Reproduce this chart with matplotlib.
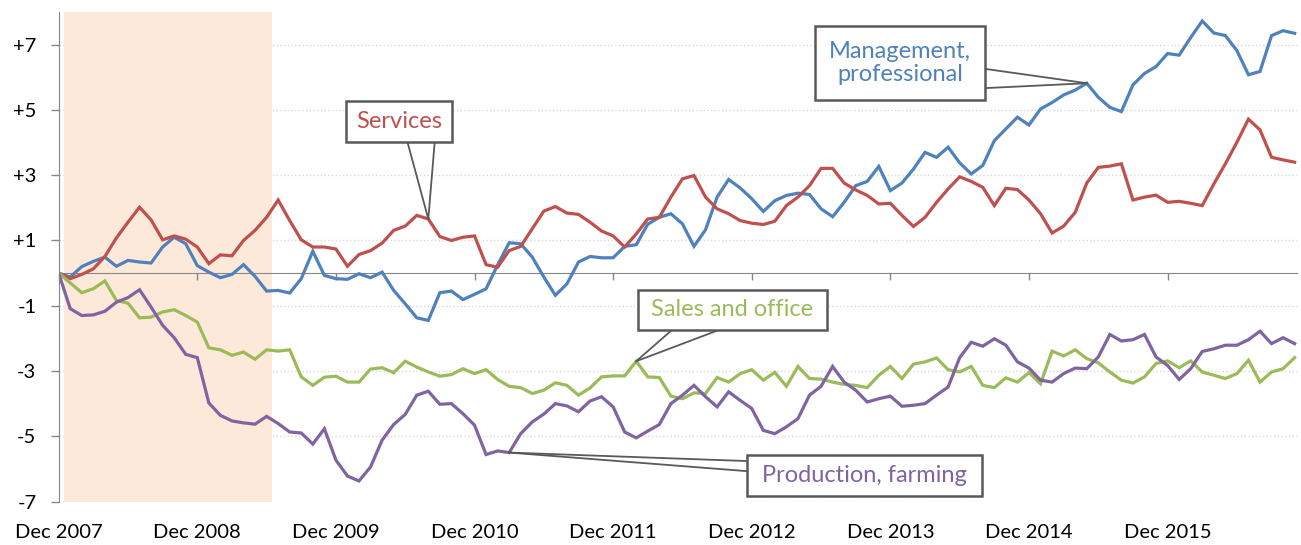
import matplotlib.pyplot as plt
from matplotlib.patches import Rectangle

plt.rcParams['font.family'] = ['Lato', 'DejaVu Sans']

# monthly change since Dec 2007 (millions), Dec 2007 .. Nov 2016
months = list(range(108))
tick_pos = list(range(0, 108, 12))
tick_labels = ['Dec 2007', 'Dec 2008', 'Dec 2009', 'Dec 2010', 'Dec 2011',
               'Dec 2012', 'Dec 2013', 'Dec 2014', 'Dec 2015']
y_ticks = [-7, -5, -3, -1, 1, 3, 5, 7]

management = [0, -0.12, 0.20, 0.36, 0.49, 0.21, 0.39, 0.34, 0.31, 0.80, 1.10, 0.90,
              0.23, 0.03, -0.14, -0.04, 0.26, -0.10, -0.55, -0.53, -0.61, -0.17, 0.67, -0.07,
              -0.17, -0.19, -0.02, -0.14, 0.03, -0.53, -0.94, -1.37, -1.45, -0.60, -0.55, -0.81,
              -0.65, -0.48, 0.25, 0.93, 0.90, 0.49, -0.12, -0.68, -0.33, 0.34, 0.51, 0.47,
              0.47, 0.82, 0.87, 1.50, 1.71, 1.82, 1.51, 0.82, 1.33, 2.33, 2.87, 2.61,
              2.28, 1.89, 2.22, 2.38, 2.45, 2.41, 1.97, 1.73, 2.17, 2.68, 2.81, 3.27,
              2.53, 2.76, 3.19, 3.70, 3.55, 3.86, 3.38, 3.04, 3.30, 4.06, 4.42, 4.78,
              4.54, 5.03, 5.23, 5.46, 5.61, 5.82, 5.39, 5.08, 4.95, 5.77, 6.12, 6.33,
              6.73, 6.68, 7.22, 7.73, 7.36, 7.28, 6.82, 6.08, 6.18, 7.28, 7.43, 7.35]

services = [0, -0.17, -0.04, 0.13, 0.51, 1.08, 1.56, 2.02, 1.63, 1.02, 1.14, 1.04,
            0.80, 0.29, 0.56, 0.53, 1.00, 1.31, 1.71, 2.24, 1.61, 1.02, 0.80, 0.80,
            0.74, 0.21, 0.57, 0.69, 0.92, 1.31, 1.44, 1.77, 1.66, 1.12, 1.00, 1.10,
            1.14, 0.26, 0.18, 0.69, 0.82, 1.36, 1.90, 2.04, 1.84, 1.80, 1.56, 1.29,
            1.14, 0.80, 1.20, 1.66, 1.71, 2.33, 2.89, 2.99, 2.33, 1.97, 1.82, 1.61,
            1.53, 1.49, 1.59, 2.07, 2.33, 2.68, 3.21, 3.21, 2.76, 2.55, 2.38, 2.12,
            2.14, 1.77, 1.43, 1.71, 2.17, 2.58, 2.95, 2.81, 2.63, 2.07, 2.60, 2.56,
            2.24, 1.82, 1.23, 1.44, 1.86, 2.76, 3.24, 3.28, 3.35, 2.24, 2.33, 2.39,
            2.17, 2.20, 2.14, 2.07, 2.73, 3.35, 4.01, 4.72, 4.39, 3.55, 3.47, 3.40]

sales = [0, -0.30, -0.60, -0.48, -0.24, -0.84, -0.92, -1.37, -1.35, -1.19, -1.12, -1.30,
         -1.50, -2.29, -2.35, -2.52, -2.42, -2.64, -2.35, -2.39, -2.35, -3.18, -3.44, -3.19,
         -3.16, -3.34, -3.34, -2.94, -2.90, -3.05, -2.70, -2.88, -3.03, -3.16, -3.11, -2.93,
         -3.08, -2.96, -3.26, -3.47, -3.51, -3.69, -3.59, -3.36, -3.44, -3.74, -3.52, -3.18,
         -3.15, -3.15, -2.70, -3.18, -3.20, -3.77, -3.85, -3.67, -3.69, -3.20, -3.34, -3.08,
         -2.96, -3.28, -3.04, -3.47, -2.86, -3.23, -3.25, -3.34, -3.41, -3.44, -3.51, -3.13,
         -2.86, -3.23, -2.79, -2.72, -2.60, -2.96, -3.03, -2.86, -3.44, -3.51, -3.21, -3.34,
         -3.05, -3.39, -2.39, -2.54, -2.35, -2.62, -2.75, -3.03, -3.28, -3.37, -3.18, -2.77,
         -2.69, -2.90, -2.69, -3.03, -3.13, -3.23, -3.08, -2.67, -3.34, -3.03, -2.93, -2.59]

production = [0, -1.09, -1.30, -1.28, -1.17, -0.89, -0.75, -0.51, -1.04, -1.60, -1.98, -2.49,
              -2.59, -3.98, -4.36, -4.53, -4.59, -4.63, -4.39, -4.61, -4.87, -4.90, -5.24, -4.77,
              -5.73, -6.22, -6.37, -5.94, -5.12, -4.64, -4.33, -3.74, -3.62, -4.02, -4.00, -4.31,
              -4.66, -5.56, -5.45, -5.50, -4.92, -4.56, -4.32, -4.00, -4.07, -4.25, -3.92, -3.79,
              -4.10, -4.87, -5.05, -4.84, -4.64, -4.00, -3.74, -3.44, -3.79, -4.10, -3.64, -3.90,
              -4.15, -4.82, -4.92, -4.71, -4.46, -3.74, -3.47, -2.86, -3.34, -3.59, -3.95, -3.85,
              -3.77, -4.08, -4.05, -4.00, -3.74, -3.49, -2.59, -2.12, -2.24, -2.01, -2.21, -2.72,
              -2.91, -3.28, -3.34, -3.08, -2.91, -2.93, -2.57, -1.88, -2.08, -2.04, -1.88, -2.57,
              -2.83, -3.26, -2.93, -2.40, -2.32, -2.21, -2.21, -2.04, -1.78, -2.16, -1.98, -2.16]

BLUE = '#4F81BD'
RED = '#C0504D'
GREEN = '#9BBB59'
PURPLE = '#8064A2'
GREY = '#868686'
BOX = '#595959'

fig = plt.figure(figsize=(13.01, 5.45), dpi=100)
ax = fig.add_axes([0.0451, 0.0798, 0.9518, 0.898])

# recession shading
ax.axvspan(0.46, 18.47, color='#FDE9D9', lw=0, zorder=1)

for vals, col in [(management, BLUE), (services, RED), (sales, GREEN), (production, PURPLE)]:
    ax.plot(months, vals, color=col, lw=2.3, zorder=3, solid_joinstyle='miter')

ax.set_xlim(0, 107.2)
ax.set_ylim(-7, 8)

ax.set_yticks(y_ticks)
ax.set_yticklabels([f'+{v}' if v > 0 else f'{v}' for v in y_ticks])
ax.yaxis.grid(True, color='#D9D9D9', ls=':', lw=1, zorder=0)
ax.set_axisbelow(True)
ax.tick_params(axis='y', length=6, width=1, color=GREY, pad=10, labelsize=14.5)

ax.set_xticks(tick_pos)
ax.set_xticklabels(tick_labels)
ax.tick_params(axis='x', length=0, pad=16, labelsize=14.5)

for s in ['top', 'right', 'bottom']:
    ax.spines[s].set_visible(False)
ax.spines['left'].set_color(GREY)
ax.spines['left'].set_zorder(4)

# zero line with tick marks
sec = ax.secondary_xaxis(7 / 15)
sec.set_xticks(tick_pos)
sec.tick_params(axis='x', length=5, width=1, color=GREY, labelbottom=False, labeltop=False)
for s in sec.spines.values():
    s.set_color(GREY)
sec.set_zorder(2)


def callout(text, color, box, base, idx, series):
    x0, y0, x1, y1 = box
    tx, ty = months[idx], series[idx]
    for bx, by in base:
        ax.plot([bx, tx], [by, ty], color=BOX, lw=1.3, zorder=4)
    ax.add_patch(Rectangle((x0, y0), x1 - x0, y1 - y0, fc='white', ec=BOX, lw=1.8, zorder=5))
    ax.text((x0 + x1) / 2, (y0 + y1) / 2, text, color=color, ha='center', va='center',
            fontsize=17, zorder=6, linespacing=1.15)


callout('Services', RED, (24.9, 4.01, 34.05, 5.28), [(30.2, 4.01), (32.55, 4.01)], 32, services)
callout('Management,\nprofessional', BLUE, (65.45, 5.31, 80.2, 7.58),
        [(80.2, 6.26), (80.2, 5.67)], 89, management)
callout('Sales and office', GREEN, (50.16, -1.75, 66.5, -0.51),
        [(53.07, -1.75), (57.1, -1.75)], 50, sales)
callout('Production, farming', PURPLE, (59.6, -6.83, 79.9, -5.56),
        [(59.6, -5.76), (59.6, -6.07)], 39, production)

fig.savefig('out.png', dpi=100)
